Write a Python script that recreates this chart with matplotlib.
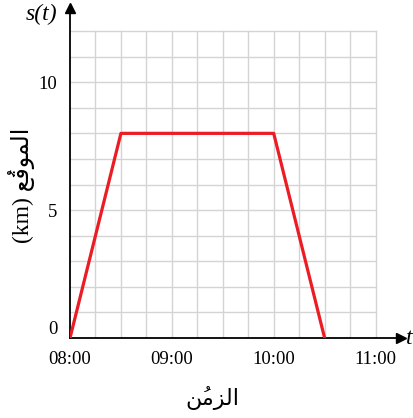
import matplotlib.pyplot as plt

# time in hours after 08:00, position in km
t_hours = [0, 0.5, 2.0, 2.5]
position_km = [0, 8, 8, 0]

x_tick_pos = [0, 1, 2, 3]
x_tick_labels = ['08:00', '09:00', '10:00', '11:00']
y_tick_pos = [0, 5, 10]
y_tick_labels = ['0', '5', '10']

# Arabic labels written with presentation forms in visual order (no shaping in matplotlib)
time_label = '\uFEE6\u064F\uFEE3\uFEB0\uFEDF\uFE8D'          # الزمنُ
pos_label = '(km) ' + '\uFECA\u064F\uFED7\uFEEE\uFEE4\uFEDF\uFE8D'  # الموقعُ (km)

plt.rcParams['font.family'] = ['Liberation Serif', 'DejaVu Sans']

fig = plt.figure(figsize=(4.13, 4.18), dpi=100)
ax = fig.add_axes([70 / 413, 80 / 418, 331 / 413, 330 / 418])
ax.set_xlim(0, 3.25)
ax.set_ylim(0, 12.9)

# grid
grid_color = '#d4d4d4'
for i in range(1, 13):
    ax.plot([i * 0.25, i * 0.25], [0, 12], color=grid_color, lw=1, zorder=1)
for j in range(1, 13):
    ax.plot([0, 3], [j, j], color=grid_color, lw=1, zorder=1)

ax.plot(t_hours, position_km, color='#ec1c24', lw=2.3, zorder=3)

for s in ['top', 'right']:
    ax.spines[s].set_visible(False)
ax.spines['left'].set_linewidth(1.3)
ax.spines['bottom'].set_linewidth(1.3)
ax.plot(1, 0, '>k', ms=7, transform=ax.get_yaxis_transform(), clip_on=False)
ax.plot(0, 1, '^k', ms=7, transform=ax.get_xaxis_transform(), clip_on=False)

ax.set_xticks(x_tick_pos)
ax.set_xticklabels(x_tick_labels)
ax.set_yticks(y_tick_pos)
ax.set_yticklabels(y_tick_labels)
ax.tick_params(length=0, pad=9, labelsize=13.5)
ax.get_yticklabels()[0].set_va('bottom')  # lift the "0" off the x axis

fig.text(42 / 413, 1 - 14 / 418, 's(t)', style='italic',
         fontsize=17, ha='center', va='center')
fig.text(409 / 413, 1 - 339 / 418, 't', style='italic',
         fontsize=17, ha='center', va='center')

fig.text(212 / 413, 1 - 398 / 418, time_label, fontsize=16,
         ha='center', va='center')
fig.text(22 / 413, 1 - 185 / 418, pos_label, fontsize=17,
         ha='center', va='center', rotation=90)

fig.savefig('out.png', dpi=100)
